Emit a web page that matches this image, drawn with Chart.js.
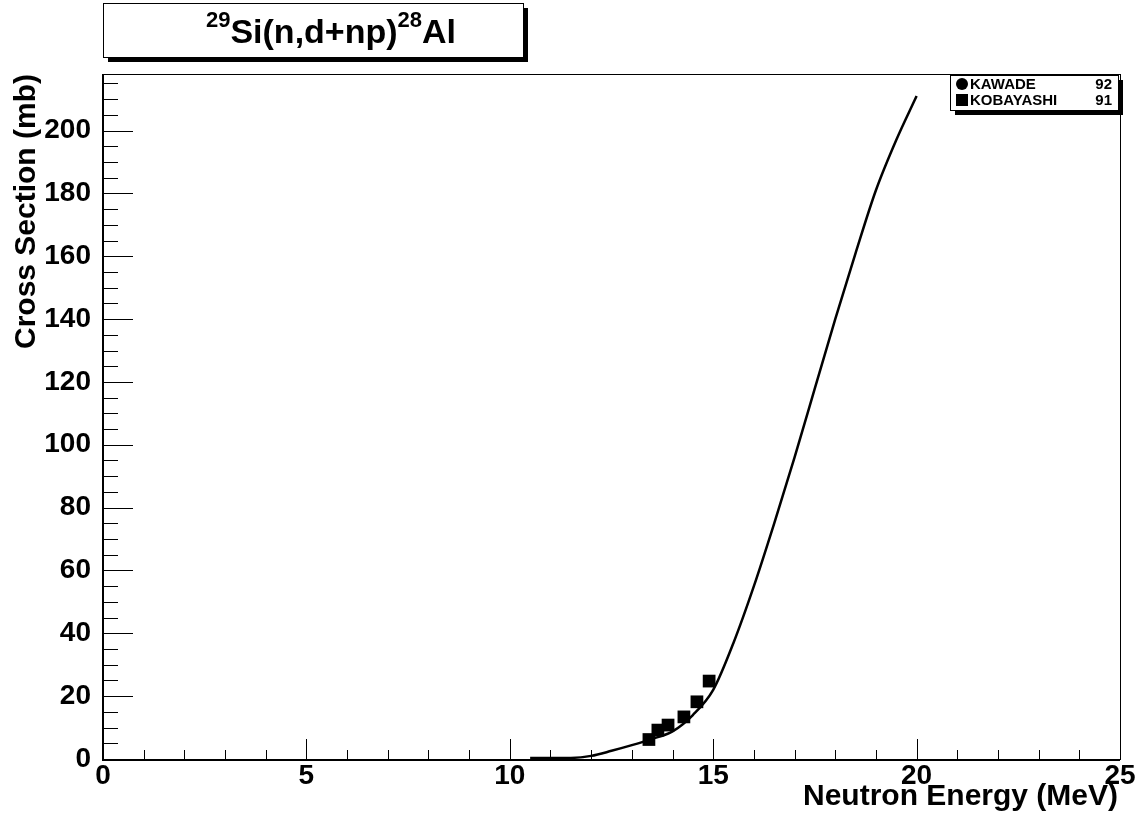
<!DOCTYPE html>
<html>
<head>
<meta charset="utf-8">
<script src="https://cdn.jsdelivr.net/npm/chart.js@4.4.1/dist/chart.umd.min.js"></script>
<style>
  html, body { margin: 0; padding: 0; background: #fff; }
  #wrap { width: 1145px; height: 834px; position: relative; }
</style>
</head>
<body>
<div id="wrap"><canvas id="myChart" width="1145" height="834"></canvas></div>
<script>
// Evaluated curve (energy in MeV, cross section in mb)
var curveEnergy = [10.5, 11.0, 11.5, 12.0, 12.5, 13.0, 13.5, 14.0, 14.5, 15.0, 15.5, 16.0, 16.5, 17.0, 17.5, 18.0, 18.5, 19.0, 19.5, 20.0];
var curveXs     = [0.3, 0.3, 0.35, 1.0, 2.6, 4.4, 6.4, 8.8, 14.0, 22.0, 37.0, 55.0, 75.0, 96.0, 118.0, 140.0, 161.0, 181.0, 197.0, 211.0];

// Measurements
var kawadeEnergy = [];
var kawadeXs = [];
var kobayashiEnergy = [13.42, 13.64, 13.89, 14.28, 14.60, 14.90];
var kobayashiXs     = [6.2, 9.2, 10.8, 13.4, 18.2, 24.8];

var legendLabels = ['KAWADE', 'KOBAYASHI'];
var legendYears = ['92', '91'];

var xTicks = [0, 5, 10, 15, 20, 25];
var yTicks = [0, 20, 40, 60, 80, 100, 120, 140, 160, 180, 200];

function toPoints(xs, ys) {
    return xs.map(function(x, i) { return { x: x, y: ys[i] }; });
}

var FONT = '"Liberation Sans", Arial, Helvetica, sans-serif';

// ticks inside the frame, title box, axis titles and legend
var rootStyle = {
    id: 'rootStyle',
    beforeDraw: function(chart) {
        var c = chart.ctx;
        c.save();
        c.fillStyle = '#fff';
        c.fillRect(0, 0, chart.width, chart.height);
        c.restore();
    },
    afterDraw: function(chart) {
        var c = chart.ctx;
        var a = chart.chartArea;
        var xs = chart.scales.x, ys = chart.scales.y;
        c.save();
        c.strokeStyle = '#000';

        // frame
        c.lineWidth = 1;
        c.strokeRect(a.left + 0.5, a.top + 0.5, a.right - a.left, a.bottom - a.top);
        c.lineWidth = 2;
        c.beginPath();
        c.moveTo(a.left, a.top); c.lineTo(a.left, a.bottom + 1); c.lineTo(a.right, a.bottom + 1);
        c.stroke();

        // x ticks: major every 5, minor every 1
        c.lineWidth = 1;
        c.beginPath();
        for (var v = 0; v <= 25; v++) {
            var px = Math.round(xs.getPixelForValue(v)) + 0.5;
            var len = (v % 5 === 0) ? 20 : 9;
            c.moveTo(px, a.bottom); c.lineTo(px, a.bottom - len);
        }
        // y ticks: major every 20, minor every 5
        for (var w = 0; w <= ys.max; w += 5) {
            var py = Math.round(ys.getPixelForValue(w)) + 0.5;
            var l2 = (w % 20 === 0) ? 30 : 15;
            c.moveTo(a.left, py); c.lineTo(a.left + l2, py);
        }
        c.stroke();

        // axis titles
        c.fillStyle = '#000';
        c.font = 'bold 30px ' + FONT;
        c.textAlign = 'right';
        c.textBaseline = 'alphabetic';
        c.fillText('Neutron Energy (MeV)', 1118, 805);
        c.save();
        c.translate(35, 74);
        c.rotate(-Math.PI / 2);
        c.fillText('Cross Section (mb)', 0, 0);
        c.restore();

        // title box with shadow
        c.fillStyle = '#000';
        c.fillRect(108, 8, 420, 54);
        c.fillStyle = '#fff';
        c.fillRect(103, 3, 420, 54);
        c.lineWidth = 1;
        c.strokeRect(103.5, 3.5, 420, 54);
        c.fillStyle = '#000';
        c.textAlign = 'left';
        var parts = [['29', 22, 27], ['Si(n,d+np)', 34, 43], ['28', 22, 27], ['Al', 34, 43]];
        var total = 0;
        parts.forEach(function(p) { c.font = 'bold ' + p[1] + 'px ' + FONT; total += c.measureText(p[0]).width; });
        var tx = 331 - total / 2;
        parts.forEach(function(p) {
            c.font = 'bold ' + p[1] + 'px ' + FONT;
            c.fillText(p[0], tx, p[2]);
            tx += c.measureText(p[0]).width;
        });

        // legend box with shadow
        var lx = 950, ly = 75, lw = 168, lh = 35;
        c.fillStyle = '#000';
        c.fillRect(lx + 5, ly + 5, lw, lh);
        c.fillStyle = '#fff';
        c.fillRect(lx, ly, lw, lh);
        c.strokeRect(lx + 0.5, ly + 0.5, lw, lh);
        c.fillStyle = '#000';
        c.font = 'bold 15px ' + FONT;
        c.textBaseline = 'middle';
        for (var i = 0; i < legendLabels.length; i++) {
            var ry = ly + 9 + i * 16;
            if (i === 0) {
                c.beginPath(); c.arc(lx + 12, ry, 6, 0, Math.PI * 2); c.fill();
            } else {
                c.fillRect(lx + 6, ry - 6, 12, 12);
            }
            c.textAlign = 'left';
            c.fillText(legendLabels[i], lx + 20, ry + 1);
            c.textAlign = 'right';
            c.fillText(legendYears[i], lx + lw - 6, ry + 1);
        }
        c.restore();
    }
};

var ctx = document.getElementById('myChart').getContext('2d');
var myChart = new Chart(ctx, {
    type: 'scatter',
    data: {
        datasets: [{
            label: 'eval',
            data: toPoints(curveEnergy, curveXs),
            showLine: true,
            borderColor: '#000',
            borderWidth: 2.5,
            pointRadius: 0,
            cubicInterpolationMode: 'monotone',
            order: 3
        }, {
            label: legendLabels[0],
            data: toPoints(kawadeEnergy, kawadeXs),
            pointStyle: 'circle',
            pointRadius: 6,
            backgroundColor: '#000',
            borderColor: '#000',
            order: 2
        }, {
            label: legendLabels[1],
            data: toPoints(kobayashiEnergy, kobayashiXs),
            pointStyle: 'rect',
            pointRadius: 9,
            backgroundColor: '#000',
            borderColor: '#000',
            borderWidth: 0,
            order: 1
        }]
    },
    options: {
        responsive: false,
        animation: false,
        layout: { padding: { left: 0, top: 74, right: 25, bottom: 0 } },
        plugins: { legend: { display: false }, tooltip: { enabled: false } },
        scales: {
            x: {
                type: 'linear',
                min: 0, max: 25,
                grid: { display: false, drawTicks: false },
                border: { display: false },
                afterBuildTicks: function(s) { s.ticks = xTicks.map(function(v) { return { value: v }; }); },
                afterFit: function(s) { s.height = 75; },
                ticks: { color: '#000', padding: 0, maxRotation: 0, font: { family: FONT, size: 28, weight: 'bold' } }
            },
            y: {
                type: 'linear',
                min: 0, max: 218,
                grid: { display: false, drawTicks: false },
                border: { display: false },
                afterBuildTicks: function(s) { s.ticks = yTicks.map(function(v) { return { value: v }; }); },
                afterFit: function(s) { s.width = 103; },
                ticks: { color: '#000', padding: 12, font: { family: FONT, size: 28, weight: 'bold' } }
            }
        }
    },
    plugins: [rootStyle]
});
</script>
</body>
</html>
